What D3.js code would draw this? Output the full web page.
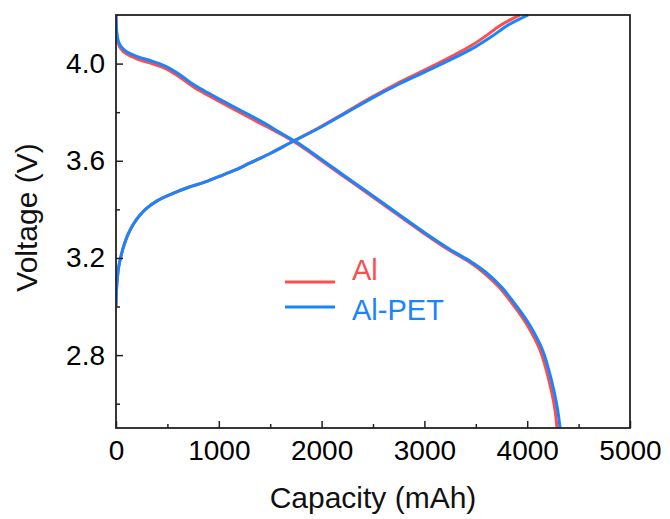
<!DOCTYPE html>
<html>
<head>
<meta charset="utf-8">
<script src="https://cdn.jsdelivr.net/npm/d3@7"></script>
<style>
  html, body { margin: 0; padding: 0; background: #fff; }
  svg { display: block; font-family: "Liberation Sans", Arial, sans-serif; }
</style>
</head>
<body>
<svg id="chart" width="670" height="519"></svg>
<script>
// ---------- data ----------
const seriesNames = ["Al", "Al-PET"];

// Discharge curves (capacity mAh, voltage V)
const capDisAl  = [0, 3, 10, 25, 50, 100, 200, 350, 450, 525, 600, 675, 750, 850, 1000, 1200, 1400, 1600, 1800, 2000, 2300, 2600, 3000, 3230, 3430, 3575, 3725, 3875, 4005, 4125, 4215, 4265, 4290];
const vDisAl    = [4.20, 4.15, 4.11, 4.08, 4.06, 4.04, 4.02, 4.00, 3.985, 3.97, 3.95, 3.928, 3.905, 3.88, 3.845, 3.80, 3.755, 3.71, 3.66, 3.60, 3.51, 3.42, 3.30, 3.235, 3.185, 3.14, 3.08, 3.00, 2.92, 2.82, 2.69, 2.59, 2.50];
const capDisPET = [0, 3, 10, 25, 50, 100, 200, 350, 450, 525, 600, 675, 750, 850, 1000, 1200, 1400, 1600, 1800, 2000, 2300, 2600, 3000, 3250, 3450, 3600, 3750, 3900, 4030, 4150, 4240, 4290, 4320];
const vDisPET   = [4.20, 4.16, 4.12, 4.09, 4.07, 4.05, 4.03, 4.01, 3.995, 3.98, 3.96, 3.938, 3.915, 3.89, 3.855, 3.81, 3.765, 3.715, 3.665, 3.605, 3.515, 3.425, 3.305, 3.235, 3.185, 3.14, 3.08, 3.00, 2.92, 2.82, 2.69, 2.59, 2.50];

// Charge curves
const capChgAl  = [0, 3, 10, 25, 50, 80, 120, 170, 230, 300, 400, 550, 700, 850, 1000, 1150, 1300, 1500, 1700, 1990, 2235, 2480, 2720, 2960, 3200, 3440, 3585, 3730, 3835, 3930];
const vChgAl    = [3.00, 3.05, 3.10, 3.16, 3.21, 3.255, 3.30, 3.34, 3.375, 3.405, 3.435, 3.465, 3.49, 3.51, 3.535, 3.56, 3.59, 3.63, 3.675, 3.74, 3.80, 3.86, 3.915, 3.965, 4.015, 4.07, 4.11, 4.155, 4.18, 4.20];
const capChgPET = [0, 3, 10, 25, 50, 80, 120, 170, 230, 300, 400, 550, 700, 850, 1000, 1150, 1300, 1500, 1700, 2000, 2250, 2500, 2750, 3000, 3250, 3500, 3650, 3800, 3910, 4010];
const vChgPET   = [3.00, 3.05, 3.10, 3.16, 3.21, 3.255, 3.30, 3.34, 3.375, 3.405, 3.435, 3.465, 3.49, 3.51, 3.535, 3.56, 3.59, 3.63, 3.675, 3.74, 3.80, 3.86, 3.915, 3.965, 4.015, 4.07, 4.11, 4.155, 4.18, 4.20];

const xTicks = [0, 1000, 2000, 3000, 4000, 5000];
const xMinorTicks = [500, 1500, 2500, 3500, 4500];
const yTicks = [2.8, 3.2, 3.6, 4.0];
const yMinorTicks = [2.6, 3.0, 3.4, 3.8];
const xLabel = "Capacity (mAh)";
const yLabel = "Voltage (V)";

// ---------- layout ----------
const colors = { "Al": "#ff4d4d", "Al-PET": "#1a84ff" };
const m = { left: 116, top: 15, right: 630, bottom: 428 };
const svg = d3.select("#chart");

const x = d3.scaleLinear().domain([0, 5000]).range([m.left, m.right]);
const y = d3.scaleLinear().domain([2.5, 4.2]).range([m.bottom, m.top]);

const zip = (a, b) => a.map((c, i) => [c, b[i]]);
const curves = [
  { name: "Al", pts: zip(capDisAl, vDisAl) },
  { name: "Al", pts: zip(capChgAl, vChgAl) },
  { name: "Al-PET", pts: zip(capDisPET, vDisPET) },
  { name: "Al-PET", pts: zip(capChgPET, vChgPET) },
];

svg.append("clipPath").attr("id", "clip")
  .append("rect").attr("x", m.left).attr("y", m.top - 1)
  .attr("width", m.right - m.left).attr("height", m.bottom - m.top + 1);

const line = d3.line().x(d => x(d[0])).y(d => y(d[1])).curve(d3.curveCatmullRom.alpha(0.5));
const gLines = svg.append("g").attr("clip-path", "url(#clip)");
curves.forEach(c => {
  gLines.append("path")
    .attr("d", line(c.pts))
    .attr("fill", "none")
    .attr("stroke", colors[c.name])
    .attr("stroke-width", 3)
    .attr("stroke-linejoin", "round");
});

// ---------- axes ----------
const axisColor = "#222";
const xAxis = svg.append("g").attr("transform", `translate(0,${m.bottom})`)
  .call(d3.axisBottom(x).tickValues(xTicks).tickSizeInner(-7).tickSizeOuter(0).tickPadding(13).tickFormat(d3.format("d")));
xAxis.selectAll(".tick text").attr("font-size", 28).attr("fill", "#000").attr("dy", "0.71em").attr("y", 12);
const xAxisMinor = svg.append("g").attr("transform", `translate(0,${m.bottom})`)
  .call(d3.axisBottom(x).tickValues(xMinorTicks).tickSizeInner(-4).tickSizeOuter(0).tickFormat(""));

const yAxis = svg.append("g").attr("transform", `translate(${m.left},0)`)
  .call(d3.axisLeft(y).tickValues(yTicks).tickSizeInner(-7).tickSizeOuter(0).tickPadding(11).tickFormat(d3.format(".1f")));
yAxis.selectAll(".tick text").attr("font-size", 28).attr("fill", "#000").attr("x", -11);
const yAxisMinor = svg.append("g").attr("transform", `translate(${m.left},0)`)
  .call(d3.axisLeft(y).tickValues(yMinorTicks).tickSizeInner(-4).tickSizeOuter(0).tickFormat(""));

[xAxis, xAxisMinor, yAxis, yAxisMinor].forEach(g => {
  g.select(".domain").remove();
  g.selectAll(".tick line").attr("stroke", axisColor).attr("stroke-width", 1.5);
});

// frame
svg.append("rect")
  .attr("x", m.left).attr("y", m.top)
  .attr("width", m.right - m.left).attr("height", m.bottom - m.top)
  .attr("fill", "none").attr("stroke", axisColor).attr("stroke-width", 1.8);

// titles
svg.append("text")
  .attr("x", (m.left + m.right) / 2).attr("y", 508)
  .attr("text-anchor", "middle").attr("font-size", 30).attr("fill", "#111")
  .text(xLabel);
svg.append("text")
  .attr("transform", `translate(37,${(m.top + m.bottom) / 2 - 4}) rotate(-90)`)
  .attr("text-anchor", "middle").attr("font-size", 30).attr("fill", "#111")
  .text(yLabel);

// ---------- legend ----------
const legend = svg.append("g");
const legendLineY = [282, 307];
const legendTextY = [280, 320];
seriesNames.forEach((n, i) => {
  legend.append("line")
    .attr("x1", 285).attr("x2", 335).attr("y1", legendLineY[i]).attr("y2", legendLineY[i])
    .attr("stroke", colors[n]).attr("stroke-width", 3);
  legend.append("text")
    .attr("x", 352).attr("y", legendTextY[i])
    .attr("font-size", 29).attr("fill", colors[n])
    .text(n);
});
</script>
</body>
</html>
